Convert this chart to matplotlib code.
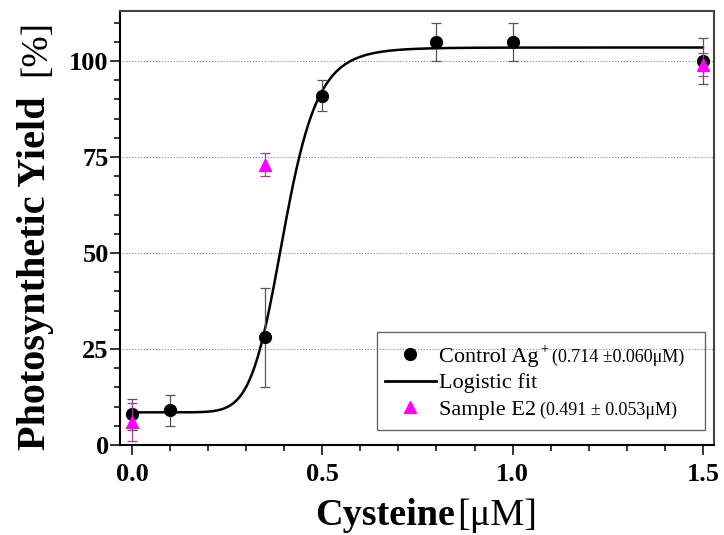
import numpy as np
import matplotlib.pyplot as plt
from matplotlib.lines import Line2D
from matplotlib.patches import Rectangle
from matplotlib.ticker import MultipleLocator
from matplotlib.font_manager import FontProperties

plt.rcParams['font.family'] = 'Liberation Serif'

# Data: control Ag+ series
cys_ctrl = [0.0, 0.1, 0.35, 0.5, 0.8, 1.0, 1.5]
yield_ctrl = [8, 9, 28, 91, 105, 105, 100]
err_ctrl = [4, 4, 13, 4, 5, 5, 6]

# Data: sample E2 series
cys_e2 = [0.0, 0.35, 1.5]
yield_e2 = [6, 73, 99]
err_e2 = [5, 3, 3]

# Logistic fit parameters
fit_bottom, fit_top, fit_x0, fit_p = 8.5, 103.5, 0.40, 9.0

labels = ['Control Ag', 'Logistic fit', 'Sample E2']
label_sups = ['+', '', '']
label_notes = ['(0.714 \u00b10.060\u03bcM)', '', '(0.491 \u00b1 0.053\u03bcM)']

fig = plt.figure(figsize=(7.24, 5.35), dpi=100)
ax = fig.add_axes([0.1657, 0.1682, 0.8204, 0.8112])

# fitted curve
xf = np.linspace(0, 1.5, 400)
yf = fit_bottom + (fit_top - fit_bottom) * xf**fit_p / (xf**fit_p + fit_x0**fit_p)
ax.plot(xf, yf, color='black', lw=1.8, zorder=3)

ax.errorbar(cys_ctrl, yield_ctrl, yerr=err_ctrl, fmt='o', color='black', ms=8.5,
            ecolor='#555555', elinewidth=0.9, capsize=3.5, capthick=0.9, zorder=4)
ax.errorbar(cys_e2, yield_e2, yerr=err_e2, fmt='^', color='#ff00ff', ms=8,
            ecolor='#a040a0', elinewidth=0.9, capsize=3.5, capthick=0.9, zorder=5)

ax.set_xlim(-0.0315, 1.529)
ax.set_ylim(0, 113)
ax.xaxis.set_major_locator(MultipleLocator(0.5))
ax.xaxis.set_minor_locator(MultipleLocator(0.1))
ax.yaxis.set_major_locator(MultipleLocator(25))
ax.yaxis.set_minor_locator(MultipleLocator(5))
ax.xaxis.set_major_formatter(plt.FormatStrFormatter('%.1f'))

ax.yaxis.grid(True, which='major', ls=':', color='#888888', lw=0.8)
ax.set_axisbelow(True)

for side in ['left', 'bottom']:
    ax.spines[side].set_linewidth(1.5)
    ax.spines[side].set_color('black')
for side in ['top', 'right']:
    ax.spines[side].set_linewidth(1.5)
    ax.spines[side].set_color('#444444')

ax.tick_params(which='both', direction='out', top=False, right=False, width=1.1)
ax.tick_params(which='major', length=7, labelsize=19)
ax.tick_params(which='minor', length=4)
ax.tick_params(axis='x', pad=6)
ax.tick_params(axis='y', pad=1)
for lbl in ax.get_xticklabels() + ax.get_yticklabels():
    lbl.set_fontweight('bold')

# axis labels (bold name + normal unit)
fig.text(0.062, 0.159, 'Photosynthetic Yield', rotation=90, rotation_mode='anchor',
         ha='left', va='baseline', fontsize=29, fontweight='bold')
fig.text(0.062, 0.963, '[%]', rotation=90, rotation_mode='anchor',
         ha='right', va='baseline', fontsize=27)
fig.text(0.435, 0.018, 'Cysteine', ha='left', va='baseline', fontsize=27.5, fontweight='bold')
fig.text(0.631, 0.018, '[\u03bcM]', ha='left', va='baseline', fontsize=27.5)

# legend
handles = [Line2D([], [], ls='none', marker='o', color='black', ms=8.5),
           Line2D([], [], color='black', lw=2),
           Line2D([], [], ls='none', marker='^', color='#ff00ff', ms=8)]
leg = ax.legend(handles, labels, loc='upper left', bbox_to_anchor=(0.446, 0.228),
                frameon=False, fontsize=16, handlelength=2.3, handletextpad=0.15,
                labelspacing=0.28, borderpad=0, borderaxespad=0)
ax.add_patch(Rectangle((0.4327, 0.0346), 0.552, 0.2258, transform=ax.transAxes,
                       fill=False, ec='#666666', lw=1, zorder=6))

fig.canvas.draw()
renderer = fig.canvas.get_renderer()
inv = fig.transFigure.inverted()
_, _, descent = renderer.get_text_width_height_descent(
    'lp', FontProperties(family='Liberation Serif', size=16), ismath=False)
for txt, sup, note in zip(leg.get_texts(), label_sups, label_notes):
    bb = txt.get_window_extent(renderer)
    base = bb.y0 + descent
    x = bb.x1
    if sup:
        t = fig.text(*inv.transform((x + 1, base + 8)), sup, ha='left', va='baseline', fontsize=10)
        x = t.get_window_extent(renderer).x1
    if note:
        fig.text(*inv.transform((x + 4, base)), note, ha='left', va='baseline', fontsize=13)

fig.savefig('out.png', dpi=100)
